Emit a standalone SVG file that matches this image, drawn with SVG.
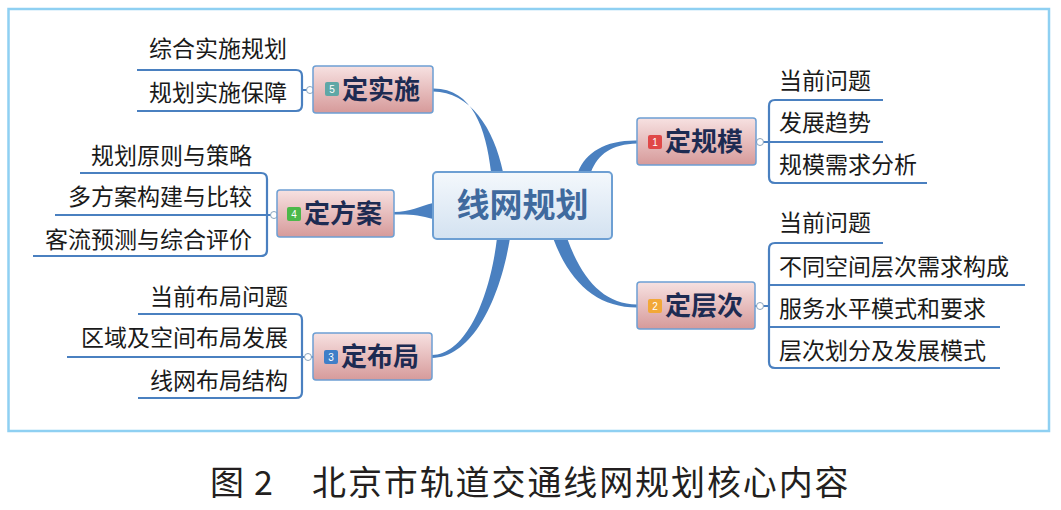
<svg xmlns="http://www.w3.org/2000/svg" width="1061" height="510" viewBox="0 0 1061 510">
<defs>
<linearGradient id="gTopic" x1="0" y1="0" x2="0" y2="1">
<stop offset="0" stop-color="#f7e1e1"/>
<stop offset="1" stop-color="#d69a9a"/>
</linearGradient>
<linearGradient id="gCenter" x1="0" y1="0" x2="0" y2="1">
<stop offset="0" stop-color="#f4f8fc"/>
<stop offset="1" stop-color="#d3e2f1"/>
</linearGradient>
<style>
.frame{fill:#fff;stroke:#8fd0f2;stroke-width:2.5}
.topic{fill:url(#gTopic);stroke:#6d9fd3;stroke-width:1.5}
.center{fill:url(#gCenter);stroke:#6d9fd3;stroke-width:2}
.tt{font-family:"Noto Sans CJK SC","Noto Sans",sans-serif;font-weight:bold;font-size:26px;fill:#1d2b52}
.ct{font-family:"Noto Sans CJK SC","Noto Sans",sans-serif;font-weight:bold;font-size:33px;fill:#3f6a9e}
.st{font-family:"Noto Sans CJK SC","Noto Sans",sans-serif;font-size:23px;fill:#1a1a1a}
.bt{font-family:"Liberation Sans",Arial,sans-serif;font-size:10px;fill:#fff;text-anchor:middle}
.br{fill:none;stroke:#4a80c0;stroke-width:2.2}
.mc{fill:#4a80c0}
.dot{fill:#fff;stroke:#8aa4bd;stroke-width:1}
.cap{font-family:"Noto Sans CJK SC","Noto Sans",sans-serif;font-size:34px;fill:#231f20}
</style>
</defs>
<rect class="frame" x="8.5" y="9" width="1040.5" height="422"/>

<g id="connectors">
<path class="mc" d="M433,88.5 C472,88 486,128 491,172 L503,172 C494,128 470,92 433,91.5 Z"/>
<path class="mc" d="M637,140.5 C606,140 586,152 578,172 L591,172 C598,154 612,144 637,143.5 Z"/>
<path class="mc" d="M394,212 C410,212 420,206 433,203 L433,219 C420,215 410,214 394,214.5 Z"/>
<path class="mc" d="M497,238 C490,298 466,354.5 432,355 L432,358 C472,357.5 500,300 510,238 Z"/>
<path class="mc" d="M553,238 C570,284 598,307.5 637,307.5 L637,304.5 C604,304 582,280 567,238 Z"/>
<path class="br" d="M883,100 L775,100 Q769,100 769,106 L769,177 Q769,183 775,183 L927,183 M756,142 L883,142"/>
<path class="br" d="M883,243 L775,243 Q769,243 769,249 L769,362 Q769,368 775,368 L1000,368 M769,285 L1025,285 M769,327 L1000,327 M755,306 L769,306"/>
<path class="br" d="M137,70 L296,70 Q302,70 302,76 L302,105 Q302,111 296,111 L137,111 M302,90 L313,90"/>
<path class="br" d="M80,173 L261,173 Q267,173 267,179 L267,250 Q267,256 261,256 L33,256 M55,215 L278,215"/>
<path class="br" d="M138,314 L296,314 Q302,314 302,320 L302,392 Q302,398 296,398 L138,398 M67,357 L313,357"/>
<circle class="dot" cx="760" cy="142" r="3.5"/>
<circle class="dot" cx="760" cy="306" r="3.5"/>
<circle class="dot" cx="310" cy="90" r="3.5"/>
<circle class="dot" cx="274" cy="215" r="3.5"/>
<circle class="dot" cx="308" cy="357" r="3.5"/>
</g>

<g id="center">
<rect class="center" x="433" y="172" width="179" height="67" rx="4"/>
<text class="ct" x="522.5" y="217" text-anchor="middle">线网规划</text>
</g>

<g id="n1">
<rect class="topic" x="637" y="118" width="119" height="47" rx="3"/>
<rect x="648" y="135" width="14" height="14" rx="2" fill="#e04848"/>
<text class="bt" x="655" y="146">1</text>
<text class="tt" x="665" y="151">定规模</text>
<text class="st" x="779" y="89">当前问题</text>
<text class="st" x="779" y="131">发展趋势</text>
<text class="st" x="779" y="173">规模需求分析</text>
</g>

<g id="n2">
<rect class="topic" x="637" y="282" width="118" height="47" rx="3"/>
<rect x="648" y="299" width="14" height="14" rx="2" fill="#f2a838"/>
<text class="bt" x="655" y="310">2</text>
<text class="tt" x="665" y="315">定层次</text>
<text class="st" x="779" y="231">当前问题</text>
<text class="st" x="779" y="275">不同空间层次需求构成</text>
<text class="st" x="779" y="317">服务水平模式和要求</text>
<text class="st" x="779" y="359">层次划分及发展模式</text>
</g>

<g id="n3">
<rect class="topic" x="313" y="333" width="119" height="47" rx="3"/>
<rect x="324" y="350" width="14" height="14" rx="2" fill="#3f7fc8"/>
<text class="bt" x="331" y="361">3</text>
<text class="tt" x="341" y="366">定布局</text>
<text class="st" x="288" y="305" text-anchor="end">当前布局问题</text>
<text class="st" x="288" y="346" text-anchor="end">区域及空间布局发展</text>
<text class="st" x="288" y="389" text-anchor="end">线网布局结构</text>
</g>

<g id="n4">
<rect class="topic" x="277" y="190" width="117" height="47" rx="3"/>
<rect x="287" y="207" width="14" height="14" rx="2" fill="#4cb84a"/>
<text class="bt" x="294" y="218">4</text>
<text class="tt" x="304" y="223">定方案</text>
<text class="st" x="252" y="164" text-anchor="end">规划原则与策略</text>
<text class="st" x="252" y="205" text-anchor="end">多方案构建与比较</text>
<text class="st" x="252" y="248" text-anchor="end">客流预测与综合评价</text>
</g>

<g id="n5">
<rect class="topic" x="313" y="66" width="120" height="47" rx="3"/>
<rect x="325" y="82" width="14" height="14" rx="2" fill="#5fa7a6"/>
<text class="bt" x="332" y="93">5</text>
<text class="tt" x="342" y="99">定实施</text>
<text class="st" x="287" y="57" text-anchor="end">综合实施规划</text>
<text class="st" x="287" y="101" text-anchor="end">规划实施保障</text>
</g>

<g id="caption">
<text class="cap" x="210" y="495">图</text>
<text class="cap" x="254" y="495">2</text>
<text class="cap" x="312" y="495" letter-spacing="1.9">北京市轨道交通线网规划核心内容</text>
</g>
</svg>
